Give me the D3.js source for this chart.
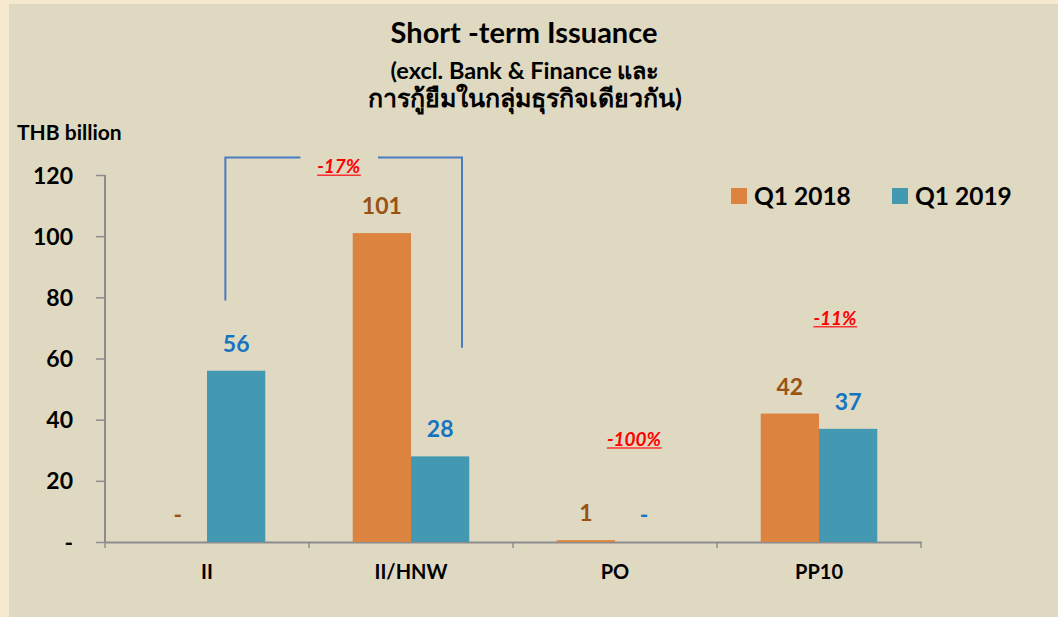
<!DOCTYPE html>
<html>
<head>
<meta charset="utf-8">
<script src="https://cdn.jsdelivr.net/npm/d3@7"></script>
<style>
  html, body { margin: 0; padding: 0; background: #f6e9cf; }
  #vis { width: 1058px; height: 617px; }
  text { font-family: Lato, "Noto Sans", sans-serif; font-weight: bold; }
</style>
</head>
<body>
<div id="vis"></div>
<script>
var categories = ['II', 'II/HNW', 'PO', 'PP10'];
var series = ['Q1 2018', 'Q1 2019'];
var q1_2018 = [0, 101, 0.6, 42];
var q1_2019 = [56, 28, 0, 37];
var value_labels_2018 = ['-', '101', '1', '42'];
var value_labels_2019 = ['56', '28', '-', '37'];
var y_ticks = [0, 20, 40, 60, 80, 100, 120];
var y_tick_labels = ['-', '20', '40', '60', '80', '100', '120'];
var changes = [
  {text: '-17%', category: 'II/HNW', value: 120.6, shift: 0},
  {text: '-100%', category: 'PO', value: 31.4, shift: 19},
  {text: '-11%', category: 'PP10', value: 71, shift: 16}
];

var width = 1058, height = 617;
var margin = {top: 175, left: 105};
var colours = {'Q1 2018': '#dc833f', 'Q1 2019': '#4399b1'};
var label_colours = {'Q1 2018': '#9a5213', 'Q1 2019': '#1574c2'};

var root = d3.select('#vis').append('svg').attr('width', width).attr('height', height);
root.append('rect').attr('x', 9).attr('y', 4).attr('width', width - 9).attr('height', height - 4).attr('fill', '#dfd9c2');

var svg = root.append('g').attr('transform', 'translate(' + margin.left + ',' + margin.top + ')');
var w = 816, h = 367;

var data = categories.map(function(c, i) {
  return {category: c, values: [
    {series: 'Q1 2018', value: q1_2018[i], label: value_labels_2018[i]},
    {series: 'Q1 2019', value: q1_2019[i], label: value_labels_2019[i]}
  ]};
});

var x0 = d3.scaleBand().domain(categories).range([0, w]).padding(0);
var x1 = d3.scaleBand().domain(series).range([0, x0.bandwidth()]).paddingInner(0).paddingOuter(0.75);
var y = d3.scaleLinear().domain([0, 120]).range([h, 0]);

// titles
root.append('text').attr('x', 524).attr('y', 43).attr('text-anchor', 'middle').style('font-size', '29px').text('Short -term Issuance');
root.append('text').attr('x', 525).attr('y', 79).attr('text-anchor', 'middle').style('font-size', '23.5px').text('(excl. Bank & Finance และ');
root.append('text').attr('x', 525).attr('y', 107).attr('text-anchor', 'middle').style('font-size', '25px').text('การกู้ยืมในกลุ่มธุรกิจเดียวกัน)');
root.append('text').attr('x', 17).attr('y', 140).style('font-size', '21px').text('THB billion');

// y axis
var y_axis = d3.axisLeft(y).tickValues(y_ticks).tickSize(9).tickPadding(23).tickFormat(function(d, i) { return y_tick_labels[i]; });
var gy = svg.append('g').attr('class', 'y axis').call(y_axis);
gy.select('.domain').attr('stroke', '#8c8c8c').attr('stroke-width', 2).attr('d', 'M0,0V' + h);
gy.selectAll('.tick line').attr('stroke', '#8c8c8c').attr('stroke-width', 1.5);
gy.selectAll('.tick text').attr('fill', '#000').style('font-size', '23px').attr('dy', '0.35em');

// x axis
var x_axis = d3.axisBottom(x0).tickSize(0).tickPadding(19);
var gx = svg.append('g').attr('class', 'x axis').attr('transform', 'translate(0,' + h + ')').call(x_axis);
gx.select('.domain').attr('stroke', '#8c8c8c').attr('stroke-width', 2);
gx.selectAll('.tick text').attr('fill', '#000').style('font-size', '20px').attr('dy', '0.9em');
gx.selectAll('.sep').data(categories.concat(['end'])).enter().append('line')
  .attr('x1', function(d, i) { return i * x0.step(); })
  .attr('x2', function(d, i) { return i * x0.step(); })
  .attr('y1', 0).attr('y2', 6).attr('stroke', '#8c8c8c').attr('stroke-width', 1.5);

// bars
var groups = svg.selectAll('.group').data(data).enter().append('g').attr('class', 'group')
  .attr('transform', function(d) { return 'translate(' + x0(d.category) + ',0)'; });
groups.selectAll('rect').data(function(d) { return d.values; }).enter().append('rect')
  .attr('x', function(d) { return x1(d.series); })
  .attr('width', x1.bandwidth())
  .attr('y', function(d) { return y(d.value); })
  .attr('height', function(d) { return h - y(d.value); })
  .attr('fill', function(d) { return colours[d.series]; });
groups.selectAll('.vlabel').data(function(d) { return d.values; }).enter().append('text').attr('class', 'vlabel')
  .attr('x', function(d) { return x1(d.series) + x1.bandwidth() / 2; })
  .attr('y', function(d) { return y(d.value) - 19; })
  .attr('text-anchor', 'middle')
  .attr('fill', function(d) { return label_colours[d.series]; })
  .style('font-size', '23px')
  .text(function(d) { return d.label; });

// bracket II -> II/HNW
var bx1 = x0('II') + x0.bandwidth() * 0.59;
var bx2 = x0('II/HNW') + x0.bandwidth() * 0.75;
var by = y(125.7);
svg.append('path').attr('fill', 'none').attr('stroke', '#4a7bc1').attr('stroke-width', 2)
  .attr('d', 'M' + bx1 + ',' + y(79) + 'V' + by + 'H' + (bx1 + 75));
svg.append('path').attr('fill', 'none').attr('stroke', '#4a7bc1').attr('stroke-width', 2)
  .attr('d', 'M' + (bx2 - 84) + ',' + by + 'H' + bx2 + 'V' + y(63.5));

// change labels
var ch = svg.selectAll('.change').data(changes).enter().append('g').attr('class', 'change');
ch.append('text')
  .attr('x', function(d, i) { return i === 0 ? (bx1 + bx2) / 2 - 5 : x0(d.category) + x0.bandwidth() / 2 + d.shift; })
  .attr('y', function(d) { return y(d.value); })
  .attr('text-anchor', 'middle')
  .attr('fill', '#ff0000')
  .style('font-size', '19px').style('font-style', 'italic')
  .text(function(d) { return d.text; })
  .each(function() {
    var b = this.getBBox();
    d3.select(this.parentNode).append('line')
      .attr('x1', b.x).attr('x2', b.x + b.width)
      .attr('y1', b.y + b.height - 2).attr('y2', b.y + b.height - 2)
      .attr('stroke', '#ff3030').attr('stroke-width', 1.5);
  });

// legend
var legend = root.append('g').attr('transform', 'translate(731,185)');
var li = legend.selectAll('.item').data(series).enter().append('g').attr('class', 'item')
  .attr('transform', function(d, i) { return 'translate(' + (i * 161) + ',0)'; });
li.append('rect').attr('x', 0).attr('y', 3).attr('width', 16).attr('height', 16).attr('fill', function(d) { return colours[d]; });
li.append('text').attr('x', 23).attr('y', 20).style('font-size', '24.5px').text(function(d) { return d; });
</script>
</body>
</html>
